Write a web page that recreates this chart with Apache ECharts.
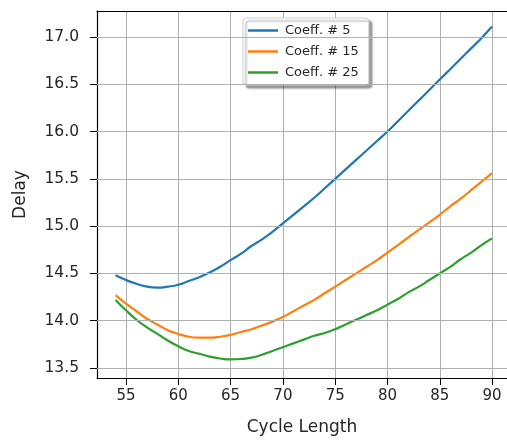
<!DOCTYPE html>
<html>
<head>
<meta charset="utf-8">
<script src="https://cdn.jsdelivr.net/npm/echarts@6/dist/echarts.min.js"></script>
<style>
html,body{margin:0;padding:0;background:#fff;}
#main{width:507px;height:444px;}
</style>
</head>
<body>
<div id="main"></div>
<script>
// cycle length 54..90, step 1
var cycle=[54,55,56,57,58,59,60,61,62,63,64,65,66,67,68,69,70,71,72,73,74,75,76,77,78,79,80,81,82,83,84,85,86,87,88,89,90];
var coeff5=[14.48,14.43,14.39,14.36,14.35,14.36,14.38,14.42,14.46,14.51,14.57,14.64,14.71,14.79,14.86,14.94,15.03,15.12,15.21,15.30,15.40,15.50,15.60,15.70,15.80,15.90,16.00,16.11,16.22,16.33,16.44,16.55,16.66,16.77,16.88,16.99,17.11];
var coeff15=[14.27,14.18,14.10,14.02,13.96,13.90,13.86,13.83,13.82,13.82,13.83,13.85,13.88,13.91,13.95,13.99,14.04,14.10,14.16,14.22,14.29,14.36,14.43,14.50,14.57,14.64,14.72,14.80,14.88,14.96,15.04,15.12,15.21,15.29,15.38,15.47,15.56];
var coeff25=[14.22,14.11,14.01,13.93,13.86,13.79,13.73,13.68,13.65,13.62,13.60,13.59,13.595,13.61,13.64,13.68,13.72,13.76,13.80,13.84,13.87,13.91,13.96,14.01,14.06,14.11,14.17,14.23,14.30,14.36,14.43,14.50,14.57,14.65,14.72,14.80,14.87];
var names=['Coeff. # 5','Coeff. # 15','Coeff. # 25'];
var colors=['#1f77b4','#ff7f0e','#2ca02c'];
var xTicks=[55,60,65,70,75,80,85,90];
var yTicks=[13.5,14,14.5,15,15.5,16,16.5,17];

function pairs(ys){
	return cycle.map(function(x,i){return [x,ys[i]];});
}

var chart=echarts.init(document.getElementById('main'));
var font='DejaVu Sans';
var xMin=52.227,xMax=91.43;
var option={
	animation:false,
	color:colors,
	grid:{left:97,top:11,right:0,bottom:66},
	legend:{
		orient:'vertical',left:243,top:18,
		data:names,
		icon:'rect',itemWidth:30,itemHeight:2.5,itemGap:8,
		padding:[6,10,6,5],
		backgroundColor:'#fff',borderColor:'#d0d0d0',borderWidth:1,borderRadius:3,
		shadowColor:'rgba(0,0,0,0.4)',shadowOffsetX:3,shadowOffsetY:3,shadowBlur:2,
		textStyle:{fontFamily:font,fontSize:13,color:'#262626',padding:[0,0,0,2]}
	},
	xAxis:[{
		type:'value',min:xMin,max:xMax,
		name:'Cycle Length',nameLocation:'middle',nameGap:41,
		nameTextStyle:{fontFamily:font,fontSize:17,color:'#262626'},
		axisLine:{show:true,onZero:false,lineStyle:{color:'#000',width:1.2}},
		axisTick:{show:true,length:7,lineStyle:{color:'#000'},customValues:xTicks},
		axisLabel:{fontFamily:font,fontSize:15,color:'#262626',margin:11,customValues:xTicks},
		splitLine:{show:true,lineStyle:{color:'#b0b0b0',width:1}}
	},{
		type:'value',min:xMin,max:xMax,position:'top',
		axisLine:{show:true,onZero:false,lineStyle:{color:'#000',width:1.2}},
		axisTick:{show:false},axisLabel:{show:false},splitLine:{show:false}
	}],
	yAxis:{
		type:'value',min:13.394,max:17.275,
		name:'Delay',nameLocation:'middle',nameGap:68,
		nameTextStyle:{fontFamily:font,fontSize:17,color:'#262626'},
		axisLine:{show:true,lineStyle:{color:'#000',width:1.2}},
		axisTick:{show:true,length:7,lineStyle:{color:'#000'},customValues:yTicks},
		axisLabel:{fontFamily:font,fontSize:15.5,color:'#262626',margin:18,
			customValues:yTicks,
			formatter:function(v){return v.toFixed(1);}},
		splitLine:{show:false}
	},
	series:[coeff5,coeff15,coeff25].map(function(ys,i){
		return {
			name:names[i],type:'line',data:pairs(ys),smooth:0.5,
			showSymbol:false,lineStyle:{width:2.2,color:colors[i]}
		};
	})
};
// horizontal grid lines at the y tick values
option.series.push({
	type:'line',silent:true,data:[],
	markLine:{symbol:'none',silent:true,label:{show:false},
		lineStyle:{color:'#b0b0b0',width:1,type:'solid'},
		data:yTicks.map(function(v){return {yAxis:v};})}
});
chart.setOption(option);
</script>
</body>
</html>
